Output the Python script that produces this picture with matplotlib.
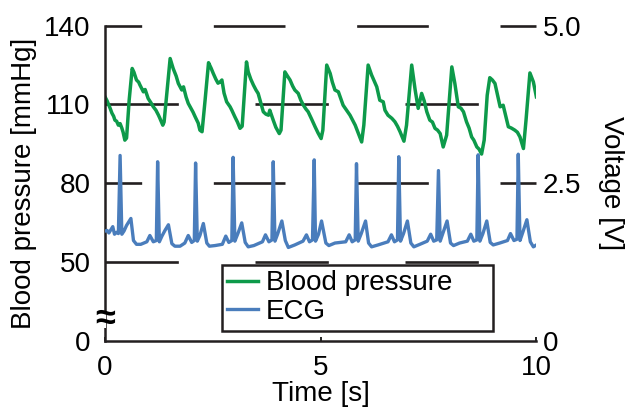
import matplotlib
matplotlib.use('Agg')
import matplotlib.pyplot as plt
from matplotlib.transforms import blended_transform_factory

plt.rcParams['font.family'] = ['Liberation Sans', 'DejaVu Sans']
plt.rcParams['lines.scale_dashes'] = False

# ---------------- data ----------------
bp_time = [0.00, 0.05, 0.12, 0.16, 0.20, 0.23, 0.27, 0.31, 0.35, 0.39, 0.42, 0.46, 0.50,
           0.56, 0.63, 0.67, 0.73, 0.78, 0.81, 0.89, 0.93, 1.00, 1.07, 1.12, 1.18, 1.24,
           1.27, 1.34, 1.37, 1.44, 1.51, 1.58, 1.65, 1.70, 1.78, 1.82, 1.88, 1.93, 1.99,
           2.04, 2.09, 2.16, 2.20, 2.25, 2.32, 2.40, 2.46, 2.51, 2.57, 2.62, 2.67, 2.71,
           2.76, 2.82, 2.90, 2.94, 3.01, 3.07, 3.13, 3.18, 3.28, 3.32, 3.38, 3.44, 3.50,
           3.55, 3.62, 3.67, 3.73, 3.79, 3.82, 3.90, 3.96, 4.04, 4.08, 4.17, 4.23, 4.29,
           4.35, 4.40, 4.48, 4.54, 4.60, 4.66, 4.71, 4.79, 4.87, 4.94, 5.01, 5.05, 5.14,
           5.22, 5.27, 5.33, 5.41, 5.47, 5.52, 5.60, 5.68, 5.74, 5.80, 5.88, 5.95, 6.00,
           6.10, 6.18, 6.24, 6.30, 6.37, 6.45, 6.49, 6.56, 6.65, 6.72, 6.78, 6.84, 6.93,
           6.99, 7.11, 7.19, 7.26, 7.34, 7.40, 7.46, 7.53, 7.59, 7.65, 7.71, 7.77, 7.84,
           7.92, 8.04, 8.11, 8.19, 8.25, 8.31, 8.38, 8.44, 8.50, 8.55, 8.62, 8.67, 8.73,
           8.79, 8.86, 8.92, 8.98, 9.04, 9.10, 9.16, 9.23, 9.28, 9.35, 9.42, 9.50, 9.56,
           9.62, 9.70, 9.76, 9.85, 9.93, 10.00]
bp_mmhg = [112.9, 111.3, 108.5, 106.7, 105.5, 104.0, 103.6, 102.1, 102.7, 101.0, 99.4, 96.4, 97.2,
           111.6, 123.7, 122.3, 119.3, 118.5, 117.4, 114.8, 115.7, 112.3, 110.5, 109.1, 107.8, 105.9,
           104.8, 102.1, 103.3, 115.5, 127.5, 123.7, 120.8, 118.0, 115.5, 116.7, 112.8, 110.4, 108.6,
           107.1, 105.3, 102.9, 100.2, 99.6, 111.6, 125.9, 123.8, 121.8, 119.6, 118.1, 118.6, 119.3,
           114.3, 111.0, 109.1, 107.8, 105.3, 103.3, 100.9, 101.7, 126.2, 122.4, 119.6, 117.4, 115.5,
           114.2, 110.1, 107.2, 106.3, 105.9, 107.8, 104.0, 101.3, 98.9, 100.2, 122.4, 120.8, 119.3,
           117.0, 115.5, 114.2, 111.6, 109.7, 108.2, 107.2, 104.4, 101.5, 99.1, 97.0, 100.2, 125.0,
           121.8, 118.5, 115.5, 114.8, 112.0, 109.7, 107.8, 105.9, 104.0, 102.1, 98.7, 95.7, 102.1,
           125.0, 121.2, 118.9, 116.7, 111.6, 111.0, 107.8, 105.9, 104.7, 103.4, 101.7, 99.6, 96.0,
           102.1, 125.0, 115.5, 108.5, 114.2, 111.3, 107.2, 104.0, 103.3, 100.9, 100.2, 98.9, 93.8,
           98.3, 124.3, 118.0, 109.1, 108.6, 107.2, 103.4, 101.0, 97.6, 96.4, 93.8, 93.0, 91.1,
           96.4, 113.5, 120.2, 119.3, 118.0, 113.5, 109.1, 109.7, 106.3, 101.5, 101.0, 100.2, 99.4,
           97.6, 93.2, 104.0, 122.0, 118.6, 112.9]

ecg_time = [0.00, 0.05, 0.09, 0.18, 0.22, 0.27, 0.31, 0.35, 0.39, 0.44, 0.50, 0.60, 0.66, 0.73, 0.83,
            0.97, 1.04, 1.12, 1.19, 1.22, 1.26, 1.32, 1.39, 1.47, 1.55, 1.62, 1.74,
            1.85, 1.93, 2.01, 2.07, 2.10, 2.14, 2.20, 2.28, 2.36, 2.42, 2.55,
            2.72, 2.80, 2.87, 2.94, 2.97, 3.01, 3.08, 3.17, 3.25, 3.32, 3.45,
            3.65, 3.72, 3.80, 3.87, 3.90, 3.94, 4.00, 4.10, 4.18, 4.25, 4.40,
            4.59, 4.67, 4.74, 4.81, 4.85, 4.88, 4.95, 5.02, 5.12, 5.19, 5.33,
            5.58, 5.66, 5.73, 5.80, 5.83, 5.87, 5.94, 6.04, 6.11, 6.18, 6.33,
            6.56, 6.64, 6.71, 6.78, 6.81, 6.85, 6.92, 7.01, 7.09, 7.16, 7.30,
            7.47, 7.55, 7.62, 7.69, 7.73, 7.77, 7.83, 7.93, 8.01, 8.08, 8.22,
            8.40, 8.48, 8.55, 8.62, 8.65, 8.69, 8.76, 8.85, 8.93, 9.00, 9.15,
            9.33, 9.40, 9.48, 9.55, 9.58, 9.62, 9.68, 9.78, 9.86, 9.93, 10.00]
ecg_volt = [1.74, 1.75, 1.71, 1.81, 1.69, 1.72, 1.70, 2.94, 1.69, 1.74, 1.83, 1.94, 1.59, 1.53, 1.53,
            1.57, 1.67, 1.57, 1.59, 2.84, 1.57, 1.66, 1.75, 1.84, 1.54, 1.50, 1.50,
            1.55, 1.67, 1.56, 1.59, 2.82, 1.58, 1.67, 1.86, 1.55, 1.50, 1.51,
            1.53, 1.66, 1.56, 1.59, 2.91, 1.58, 1.70, 1.87, 1.56, 1.49, 1.51,
            1.57, 1.68, 1.57, 1.60, 2.84, 1.58, 1.69, 1.90, 1.59, 1.48, 1.52,
            1.58, 1.68, 1.57, 1.60, 2.87, 1.58, 1.69, 1.90, 1.55, 1.51, 1.55,
            1.57, 1.68, 1.57, 1.60, 2.81, 1.58, 1.70, 1.90, 1.55, 1.49, 1.52,
            1.57, 1.68, 1.57, 1.60, 2.92, 1.58, 1.70, 1.90, 1.55, 1.49, 1.53,
            1.58, 1.69, 1.58, 1.60, 2.70, 1.58, 1.70, 1.90, 1.55, 1.51, 1.55,
            1.58, 1.69, 1.58, 1.60, 2.95, 1.58, 1.70, 1.90, 1.56, 1.52, 1.55,
            1.59, 1.70, 1.59, 1.61, 2.96, 1.59, 1.71, 1.92, 1.57, 1.49, 1.52]

time_ticks = [0, 5, 10]
bp_ticks = [20, 50, 80, 110, 140]          # 20 is drawn as "0" (broken axis)
bp_tick_labels = ['0', '50', '80', '110', '140']
volt_ticks = [0, 2.5, 5.0]
volt_tick_labels = ['0', '2.5', '5.0']
ref_lines_a = [140, 80]
ref_lines_b = [110, 50]
break_level = 28.0

# ---------------- styling ----------------
GREEN = '#0d9a4a'
BLUE = '#4a7dbc'
DARK = '#231f20'
FS = 20

fig = plt.figure(figsize=(6.28, 4.07), dpi=100)
ax = fig.add_axes([0.1672, 0.1629, 0.6869, 0.7740])
ax2 = ax.twinx()

for y in ref_lines_a:
    ax.axhline(y, color=DARK, lw=1.9, clip_on=False, zorder=1,
               linestyle=(25.2, (51.6, 51.6)))
for y in ref_lines_b:
    ax.axhline(y, color=DARK, lw=1.9, clip_on=False, zorder=1,
               linestyle=(0, (52.8, 55.2)))

l_bp, = ax.plot(bp_time, bp_mmhg, color=GREEN, lw=2.5, zorder=2,
                solid_joinstyle='round', label='Blood pressure')
l_ecg, = ax2.plot(ecg_time, ecg_volt, color=BLUE, lw=2.4,
                  solid_joinstyle='round', label='ECG')

ax.set_xlim(0, 10)
ax.set_ylim(20, 140)
ax2.set_ylim(0, 5)

ax.set_xticks(time_ticks)
ax.set_xticklabels([str(t) for t in time_ticks])
ax.set_yticks(bp_ticks)
ax.set_yticklabels(bp_tick_labels)
ax2.set_yticks(volt_ticks)
ax2.set_yticklabels(volt_tick_labels)

for s in ['top', 'right']:
    ax.spines[s].set_visible(False)
for s in ['left', 'bottom']:
    ax.spines[s].set_linewidth(1.8)
    ax.spines[s].set_color(DARK)
for s in ax2.spines.values():
    s.set_visible(False)

ax.tick_params(axis='y', length=0, pad=10.5, labelsize=FS, colors='black')
ax.tick_params(axis='x', direction='in', length=3, width=1.2, pad=10,
               labelsize=FS, colors='black')
ax2.tick_params(axis='y', length=0, pad=4.5, labelsize=FS, colors='black')

ax.set_xlabel('Time [s]', fontsize=FS, labelpad=0)
ax.set_ylabel('Blood pressure [mmHg]', fontsize=FS, labelpad=5)
ax2.set_ylabel('Voltage [V]', fontsize=FS, rotation=270, va='bottom', labelpad=12)

tr = blended_transform_factory(ax.transAxes, ax.transData)
ax.text(0, break_level, '\u2248', transform=tr, ha='center', va='center',
        fontsize=26, fontweight='bold', clip_on=False, zorder=5,
        bbox=dict(boxstyle='square,pad=-0.25', fc='white', ec='none'))

leg = ax2.legend(handles=[l_bp, l_ecg], loc='lower left',
                 bbox_to_anchor=(0.353, 0.1875, 0.4315, 0.1533),
                 bbox_transform=fig.transFigure, mode='expand', borderaxespad=0,
                 fontsize=FS, fancybox=False, framealpha=1, edgecolor=DARK,
                 borderpad=0.2, labelspacing=0.1, handlelength=1.1, handletextpad=0.3)
leg.get_frame().set_linewidth(1.8)

fig.savefig('out.png', dpi=100)
